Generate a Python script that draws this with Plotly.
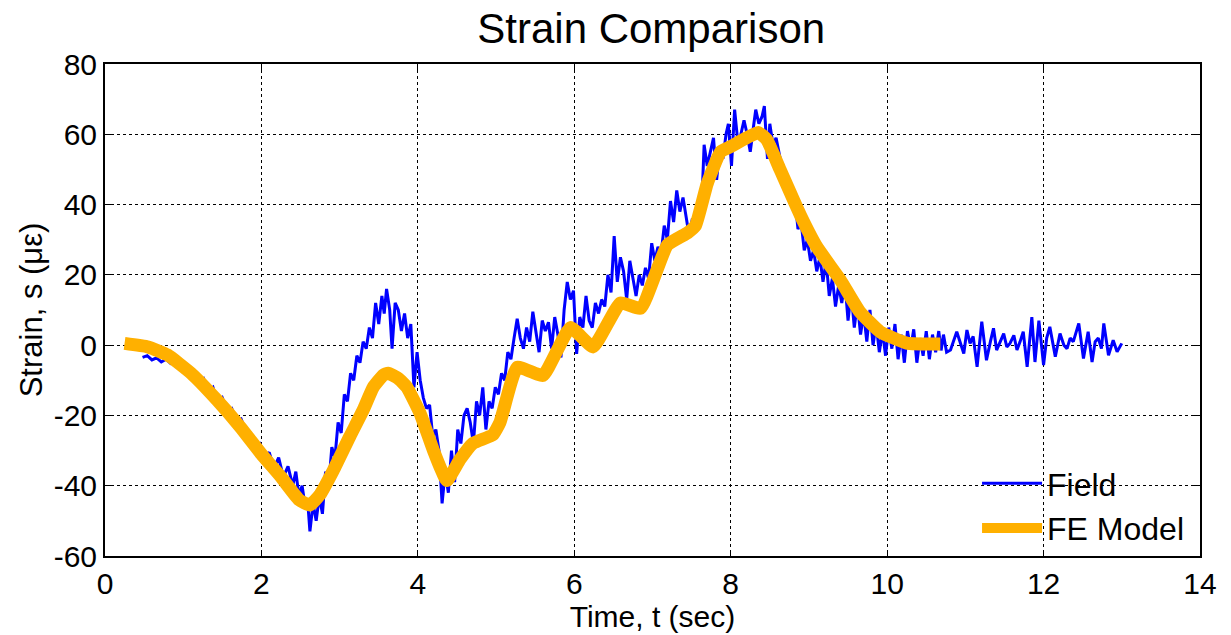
import plotly.graph_objects as go

# Field strain gauge record: time (sec) and strain (microstrain)
field_t = [
    0.48, 0.54, 0.60, 0.66, 0.72, 0.78, 0.84, 0.90, 0.96, 1.02,
    1.08, 1.14, 1.20, 1.26, 1.32, 1.38, 1.44, 1.50, 1.56, 1.62,
    1.68, 1.74, 1.80, 1.86, 1.92, 1.98, 2.04, 2.10, 2.16, 2.22,
    2.28, 2.34, 2.40, 2.44, 2.48, 2.52, 2.56, 2.59, 2.62, 2.66,
    2.70, 2.74, 2.78, 2.82, 2.86, 2.90, 2.94, 2.98, 3.02, 3.06,
    3.10, 3.14, 3.18, 3.22, 3.26, 3.30, 3.34, 3.38, 3.42, 3.46,
    3.50, 3.54, 3.57, 3.60, 3.64, 3.67, 3.71, 3.75, 3.79, 3.83,
    3.87, 3.91, 3.95, 3.99, 4.03, 4.07, 4.11, 4.15, 4.19, 4.23,
    4.27, 4.31, 4.35, 4.39, 4.43, 4.47, 4.51, 4.55, 4.59, 4.63,
    4.67, 4.71, 4.75, 4.79, 4.83, 4.87, 4.91, 4.95, 4.99, 5.03,
    5.07, 5.11, 5.15, 5.19, 5.23, 5.27, 5.31, 5.35, 5.39, 5.43,
    5.47, 5.51, 5.55, 5.59, 5.63, 5.67, 5.71, 5.75, 5.79, 5.83,
    5.87, 5.91, 5.95, 5.99, 6.03, 6.07, 6.11, 6.15, 6.19, 6.23,
    6.27, 6.31, 6.35, 6.39, 6.43, 6.47, 6.51, 6.55, 6.59, 6.63,
    6.67, 6.71, 6.75, 6.79, 6.83, 6.87, 6.91, 6.95, 6.99, 7.03,
    7.07, 7.11, 7.15, 7.19, 7.23, 7.27, 7.31, 7.35, 7.39, 7.43,
    7.47, 7.51, 7.55, 7.59, 7.63, 7.66, 7.70, 7.74, 7.78, 7.82,
    7.86, 7.90, 7.94, 7.97, 8.01, 8.05, 8.09, 8.13, 8.17, 8.21,
    8.25, 8.29, 8.32, 8.36, 8.40, 8.43, 8.47, 8.50, 8.54, 8.58,
    8.62, 8.66, 8.70, 8.74, 8.78, 8.82, 8.86, 8.90, 8.94, 8.98,
    9.02, 9.06, 9.10, 9.14, 9.18, 9.22, 9.26, 9.30, 9.34, 9.38,
    9.42, 9.46, 9.50, 9.54, 9.58, 9.62, 9.66, 9.70, 9.74, 9.78,
    9.82, 9.86, 9.90, 9.94, 9.98, 10.02, 10.06, 10.10, 10.14, 10.18,
    10.22, 10.26, 10.30, 10.34, 10.38, 10.42, 10.46, 10.50, 10.54, 10.58,
    10.62, 10.66, 10.69, 10.72, 10.76, 10.81, 10.89, 10.98, 11.02, 11.06,
    11.10, 11.15, 11.21, 11.27, 11.32, 11.36, 11.40, 11.45, 11.49, 11.53,
    11.57, 11.62, 11.66, 11.70, 11.74, 11.79, 11.85, 11.89, 11.94, 12.00,
    12.04, 12.08, 12.15, 12.21, 12.26, 12.30, 12.34, 12.38, 12.45, 12.51,
    12.57, 12.62, 12.66, 12.70, 12.74, 12.77, 12.83, 12.89, 12.94, 13.00,
]
field_strain = [
    -3.5, -3.0, -4.2, -3.6, -4.8, -4.0, -5.2, -4.6, -6.5, -6.0,
    -8.5, -7.8, -10.5, -9.5, -13.0, -12.0, -16.5, -15.0, -18.5, -18.0,
    -21.5, -21.0, -24.5, -25.0, -28.5, -28.0, -32.0, -30.5, -35.0, -32.0,
    -37.5, -34.5, -40.0, -36.0, -43.0, -40.0, -46.0, -44.0, -53.0, -45.0,
    -50.0, -43.0, -48.0, -36.0, -40.0, -29.0, -32.0, -22.0, -25.0, -14.0,
    -16.0, -8.0, -10.0, -3.0, -5.0, 1.0, -1.0, 5.0, 2.0, 12.0,
    6.0, 14.0, 9.0, 16.0, 10.0, -1.0, 12.0, 10.0, 4.0, 9.0,
    2.0, 6.0, -12.0, -2.0, -10.0, -15.0, -18.0, -17.0, -26.0, -24.0,
    -30.0, -45.0, -36.0, -42.0, -30.0, -39.0, -24.0, -28.0, -20.0, -18.0,
    -22.0, -28.0, -16.0, -20.0, -12.0, -24.0, -16.0, -18.0, -12.0, -14.0,
    -8.0, -10.0, -2.0, -4.0, 2.0, 7.5, 2.0, -1.0, 5.0, 1.0,
    9.5, 3.0, -2.0, 7.0, 4.0, 6.5, -1.0, 8.0, 3.0, -3.5,
    10.0, 18.0, 13.0, 15.5, -2.5, 8.0, 5.0, 14.0, 7.0, 5.0,
    12.0, 9.0, 13.0, 11.0, 20.0, 15.0, 31.0, 18.0, 25.0, 21.0,
    13.0, 24.0, 19.0, 14.0, 20.0, 17.0, 22.0, 19.0, 29.0, 24.0,
    28.0, 26.0, 34.0, 30.0, 41.0, 35.0, 44.0, 38.0, 42.0, 37.0,
    31.0, 36.0, 32.0, 39.0, 40.0, 57.0, 51.0, 55.0, 59.0, 47.0,
    56.0, 53.0, 60.0, 63.0, 51.0, 67.0, 58.0, 60.0, 64.0, 60.0,
    55.0, 62.0, 67.0, 63.0, 65.0, 68.0, 53.0, 63.0, 57.0, 59.0,
    54.0, 50.0, 46.0, 47.0, 40.0, 42.0, 33.0, 35.0, 27.0, 30.0,
    24.0, 27.0, 21.0, 25.0, 18.0, 24.0, 14.0, 19.0, 11.0, 17.0,
    12.0, 18.0, 7.0, 15.0, 5.0, 12.0, 3.0, 9.0, 1.0, 10.0,
    0.0, 6.0, -2.0, 4.0, -3.0, 5.0, -1.0, 6.0, -4.0, 3.0,
    -5.0, 4.0, -1.0, 4.5, -5.0, 2.0, -3.0, 4.0, -4.0, 3.0,
    -2.0, 4.0, -1.5, 3.0, -2.0, -1.4, 3.8, -2.4, 4.3, 0.5,
    2.5, -6.2, 6.7, -4.3, 1.0, 4.8, -1.4, 1.5, 3.3, -0.5,
    0.5, 2.8, -1.4, 1.0, 3.8, -6.2, 8.0, -4.8, 7.0, -5.7,
    2.0, 5.2, -3.3, 3.3, 0.0, -1.0, 2.0, 1.0, 6.2, -3.8,
    3.8, -4.8, 1.0, 2.0, -1.0, 6.2, -2.9, 1.4, -1.9, 0.5,
]

# Finite element model prediction
fe_t = [
    0.25, 0.55, 0.80, 1.10, 1.43, 1.73, 2.00, 2.25, 2.48, 2.62,
    2.75, 2.92, 3.13, 3.30, 3.43, 3.56, 3.62, 3.75, 3.86, 4.03,
    4.20, 4.37, 4.54, 4.70, 4.96, 5.05, 5.27, 5.60, 5.95, 6.24,
    6.59, 6.85, 7.19, 7.45, 7.55, 7.70, 7.87, 8.00, 8.35, 8.46,
    8.63, 8.89, 9.10, 9.40, 9.65, 9.91, 10.25, 10.68,
]
fe_strain = [
    0.5, -0.5, -2.8, -8.0, -15.6, -23.3, -31.0, -37.5, -44.0, -45.5,
    -42.5, -35.6, -26.0, -18.5, -12.0, -8.5, -8.0, -9.5, -12.0, -19.5,
    -30.0, -38.5, -32.5, -28.0, -25.5, -22.0, -6.3, -8.6, 5.0, -0.5,
    12.0, 10.5, 28.5, 32.0, 34.0, 46.0, 55.0, 56.5, 60.5, 58.5,
    50.0, 37.0, 28.0, 18.6, 9.5, 3.8, 0.6, 0.3,
]

x_ticks = [0, 2, 4, 6, 8, 10, 12, 14]
y_ticks = [-60, -40, -20, 0, 20, 40, 60, 80]

FONT = "Liberation Sans, Arial, sans-serif"

fig = go.Figure()
fig.add_trace(go.Scatter(
    x=field_t, y=field_strain, mode="lines", name="Field",
    line=dict(color="#0000FF", width=3),
))
fig.add_trace(go.Scatter(
    x=fe_t, y=fe_strain, mode="lines", name="FE Model",
    line=dict(color="#FFB000", width=13, shape="spline", smoothing=0.4),
))

axis_common = dict(
    showline=True, linecolor="black", linewidth=2, mirror="ticks",
    ticks="inside", ticklen=6, tickcolor="black", tickwidth=1,
    showgrid=True, gridcolor="black", gridwidth=1, griddash="dot",
    zeroline=False,
    tickfont=dict(family=FONT, size=30, color="black"),
)

fig.update_xaxes(
    range=[0, 14], tickvals=x_ticks, ticktext=[str(v) for v in x_ticks],
    title=dict(text="Time, t (sec)", font=dict(family=FONT, size=30, color="black"),
               standoff=0),
    **axis_common,
)
fig.update_yaxes(
    range=[-60, 80], tickvals=y_ticks, ticktext=[str(v) for v in y_ticks],
    title=dict(text="Strain, s (\u03bc\u03b5)", font=dict(family=FONT, size=31, color="black"),
               standoff=2),
    **axis_common,
)

fig.update_layout(
    width=1231, height=635,
    margin=dict(l=105, r=31, t=64, b=79),
    paper_bgcolor="white", plot_bgcolor="white",
    title=dict(text="Strain Comparison", x=0.529, xanchor="center",
               y=0.955, yref="container", yanchor="middle",
               font=dict(family=FONT, size=42, color="black")),
    legend=dict(x=0.99, y=0.0, xanchor="right", yanchor="bottom",
                bgcolor="rgba(0,0,0,0)", borderwidth=0,
                font=dict(family=FONT, size=32, color="black"),
                itemwidth=60, tracegroupgap=0),
    showlegend=True,
)

fig.write_html("out.html")
